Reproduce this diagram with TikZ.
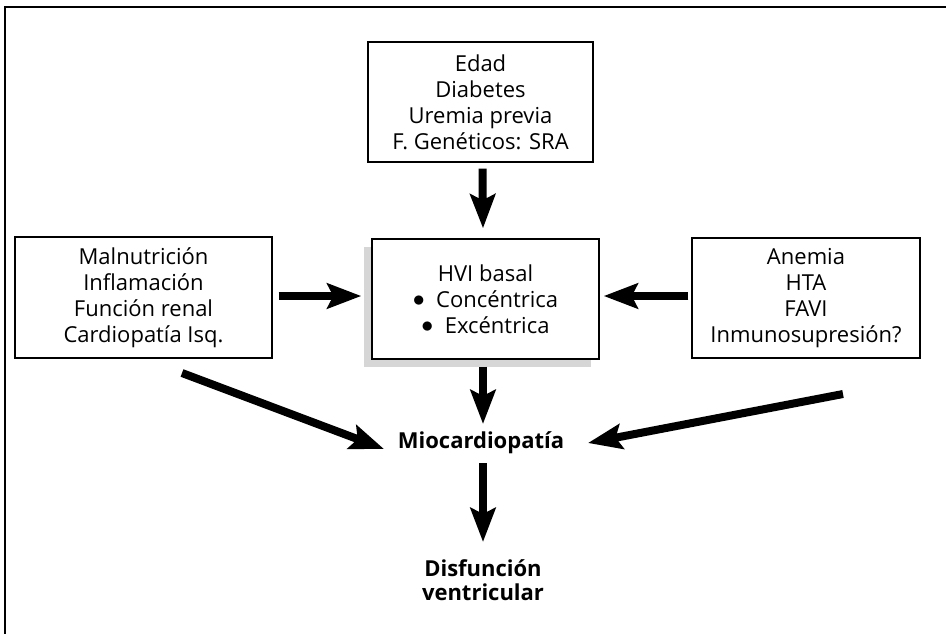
\documentclass[tikz,border=0pt]{standalone}
\usepackage{fontspec}
\setmainfont{Open Sans}
\usetikzlibrary{arrows.meta}
\definecolor{shadowgray}{HTML}{D6D6D6}
\tikzset{
  box/.style={draw=black, line width=1.4pt, fill=white, align=center, inner sep=0pt,
    font=\fontsize{22}{26}\selectfont},
  plain/.style={align=center, inner sep=0pt, font=\fontsize{22}{24.5}\selectfont\bfseries},
  bigarrow/.style={line width=8pt, -{Stealth[length=34pt, width=25pt, inset=6pt]}},
}
\newcommand{\bigbul}{\raisebox{0.05em}{\scalebox{1.15}{$\bullet$}}}
\begin{document}
\begin{tikzpicture}[x=1pt, y=-1pt]
\useasboundingbox (0,0) rectangle (946,633);
% outer frame (open at right and bottom)
\draw[line width=2pt, draw=black] (5,640) -- (5,7) -- (955,7);
% boxes
\node[box, minimum width=225pt, minimum height=120pt] (top) at (480.5,102)
  {Edad\\Diabetes\\Uremia previa\\F. Genéticos: SRA};
\fill[shadowgray] (364,247) rectangle (591,367);
\node[box, minimum width=227pt, minimum height=120pt] (ctr) at (485.5,299)
  {HVI basal\\\bigbul\ \ Concéntrica\\\bigbul\ \ Excéntrica};
\node[box, minimum width=257pt, minimum height=121pt] (lb) at (143.5,297.5)
  {Malnutrición\\Inflamación\\Función renal\\Cardiopatía Isq.};
\node[box, minimum width=228pt, minimum height=120pt] (rb) at (806,298)
  {Anemia\\HTA\\FAVI\\Inmunosupresión?};
\node[plain] (mio) at (481,443) {Miocardiopatía};
\node[plain] (dis) at (483,580) {Disfunción\\ventricular};
% connector end points
\coordinate (l1) at (182,373);
\coordinate (l2) at (384,449);
\coordinate (r1) at (843,394);
\coordinate (r2) at (588,443);
\coordinate (m1) at (483,424);
\coordinate (d0) at (483,463);
\coordinate (d1) at (483,542);
% arrows (canvas yshift: positive = up)
\draw[bigarrow] ([xshift=2pt,yshift=-6pt]top.south) -- ([xshift=-2.5pt,yshift=10pt]ctr.north);
\draw[bigarrow] ([xshift=6pt,yshift=1.5pt]lb.east) -- ([xshift=-10pt,yshift=3pt]ctr.west);
\draw[bigarrow] ([xshift=-3pt,yshift=2pt]rb.west) -- ([xshift=4pt,yshift=3pt]ctr.east);
\draw[bigarrow] ([xshift=-2.5pt,yshift=-7pt]ctr.south) -- (m1);
\draw[bigarrow] (l1) -- (l2);
\draw[bigarrow] (r1) -- (r2);
\draw[bigarrow] (d0) -- (d1);
\end{tikzpicture}
\end{document}
